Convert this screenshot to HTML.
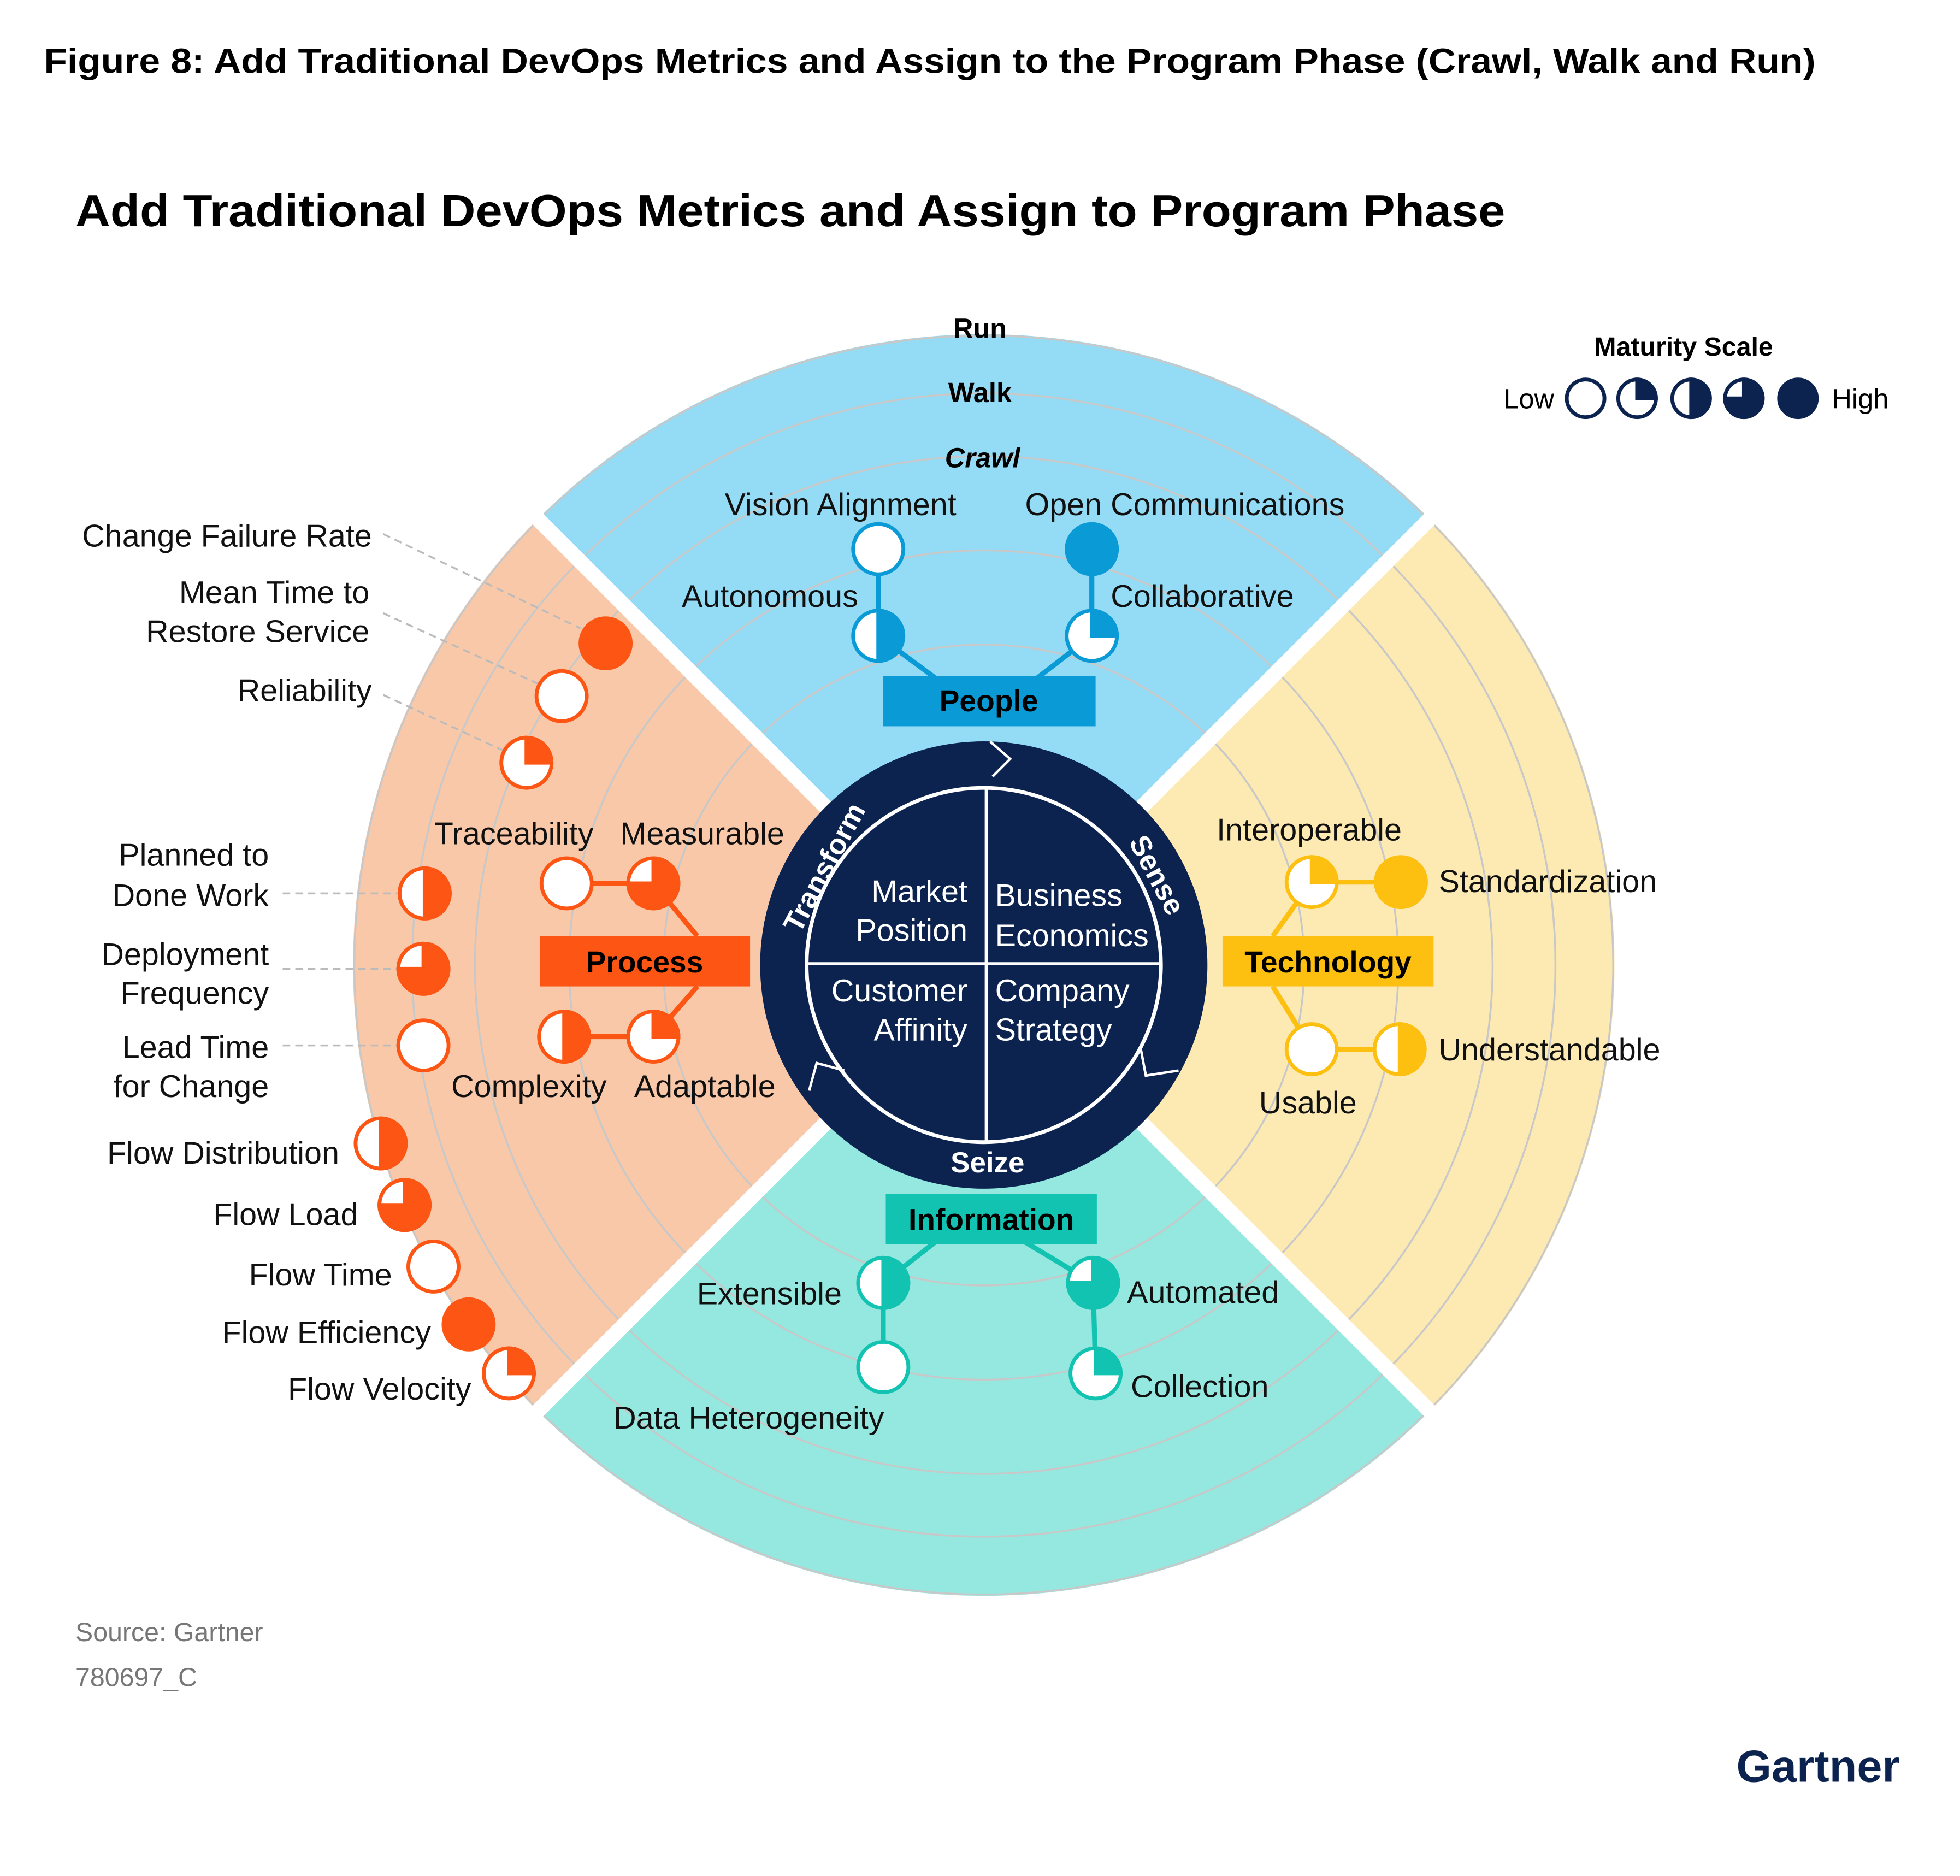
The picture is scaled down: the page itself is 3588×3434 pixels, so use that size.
<!DOCTYPE html>
<html><head><meta charset="utf-8"><style>
html,body{margin:0;padding:0;background:#fff}
svg{display:block}
text{font-family:"Liberation Sans",sans-serif}
</style></head><body>
<svg width="3588" height="3434" viewBox="0 0 1560 1493" xmlns="http://www.w3.org/2000/svg">
<defs>
<clipPath id="oc"><circle cx="783" cy="768" r="502"/></clipPath>
</defs>
<rect width="1560" height="1493" fill="#fff"/>
<text x="35" y="58" font-size="28" font-weight="bold" fill="#000" textLength="1410" lengthAdjust="spacingAndGlyphs">Figure 8: Add Traditional DevOps Metrics and Assign to the Program Phase (Crawl, Walk and Run)</text>
<text x="60" y="180" font-size="36" font-weight="bold" fill="#000" textLength="1138" lengthAdjust="spacingAndGlyphs">Add Traditional DevOps Metrics and Assign to Program Phase</text>

<g>
<path d="M783 768 L428 413 A502 502 0 0 1 1138 413 Z" fill="#94dcf5"/>
<path d="M783 768 L1138 413 A502 502 0 0 1 1138 1123 Z" fill="#fde9b2"/>
<path d="M783 768 L1138 1123 A502 502 0 0 1 428 1123 Z" fill="#94e8df"/>
<path d="M783 768 L428 1123 A502 502 0 0 1 428 413 Z" fill="#f9c8a8"/>
<g fill="none" stroke="#c8c8c8" stroke-width="1.5" clip-path="url(#oc)">
<circle cx="783" cy="768" r="455"/><circle cx="783" cy="768" r="405"/><circle cx="783" cy="768" r="330"/><circle cx="783" cy="768" r="255"/>
<circle cx="783" cy="768" r="501"/>
</g>
<g stroke="#fff" stroke-width="12">
<line x1="783" y1="768" x2="420" y2="405"/><line x1="783" y1="768" x2="1146" y2="405"/>
<line x1="783" y1="768" x2="1146" y2="1131"/><line x1="783" y1="768" x2="420" y2="1131"/>
</g>
</g>

<text x="780" y="269" font-size="22" font-weight="bold" text-anchor="middle">Run</text>
<text x="780" y="320" font-size="22" font-weight="bold" text-anchor="middle">Walk</text>
<text x="782" y="372" font-size="22" font-weight="bold" font-style="italic" text-anchor="middle">Crawl</text>

<!-- center -->
<circle cx="783" cy="768" r="178" fill="#0c2350"/>
<circle cx="783" cy="768" r="141" fill="#0c2350" stroke="#fff" stroke-width="3"/>
<line x1="785" y1="627" x2="785" y2="909" stroke="#fff" stroke-width="2.5"/>
<line x1="642" y1="767" x2="924" y2="767" stroke="#fff" stroke-width="2.5"/>
<g fill="#fff" font-size="25">
<text x="770" y="718" text-anchor="end">Market</text>
<text x="770" y="749" text-anchor="end">Position</text>
<text x="792" y="721">Business</text>
<text x="792" y="753">Economics</text>
<text x="770" y="797" text-anchor="end">Customer</text>
<text x="770" y="828" text-anchor="end">Affinity</text>
<text x="792" y="797">Company</text>
<text x="792" y="828">Strategy</text>
<text x="0" y="0" font-size="23" font-weight="bold" text-anchor="middle" transform="translate(663,694) rotate(-62)">Transform</text>
<text x="0" y="0" font-size="23" font-weight="bold" text-anchor="middle" transform="translate(914,700) rotate(62)">Sense</text>
<text x="786" y="933" font-size="23" font-weight="bold" text-anchor="middle">Seize</text>
</g>
<path d="M788 590 L804 604 L790 618" fill="#0c2350" stroke="#fff" stroke-width="2"/>
<path d="M908 835 L912 856 L938 852" fill="none" stroke="#fff" stroke-width="2"/>
<path d="M644 868 L650 846 L672 852" fill="none" stroke="#fff" stroke-width="2"/>

<!-- maturity scale -->
<text x="1340" y="283" font-size="21" font-weight="bold" text-anchor="middle">Maturity Scale</text>
<text x="1237" y="325" font-size="22" text-anchor="end">Low</text>
<text x="1458" y="325" font-size="22">High</text>
<g stroke="#0c2350" stroke-width="3" fill="#fff">
<circle cx="1262" cy="317" r="15"/>
<circle cx="1303" cy="317" r="15"/><path d="M1303 317 L1303 302 A15 15 0 0 1 1318 317 Z" fill="#0c2350"/>
<circle cx="1346" cy="317" r="15"/><path d="M1346 317 L1346 302 A15 15 0 0 1 1346 332 Z" fill="#0c2350"/>
<circle cx="1388" cy="317" r="15"/><path d="M1388 317 L1388 302 A15 15 0 1 1 1373 317 Z" fill="#0c2350"/>
<circle cx="1431" cy="317" r="15" fill="#0c2350"/>
</g>

<!-- People -->
<g stroke="#0a9ad6" stroke-width="4" fill="none">
<polyline points="699,437 699,506 745,540"/><polyline points="869,437 869,506 825,540"/>
</g>
<rect x="703" y="538" width="169" height="40" fill="#0a9ad6"/>
<text x="787" y="566" font-size="24" font-weight="bold" text-anchor="middle">People</text>
<g stroke="#0a9ad6" stroke-width="3" fill="#fff">
<circle cx="699" cy="437" r="20"/>
<circle cx="869" cy="437" r="20" fill="#0a9ad6"/>
<circle cx="699" cy="506" r="20"/><path d="M699 506 L699 486 A20 20 0 0 1 699 526 Z" fill="#0a9ad6"/>
<circle cx="869" cy="506" r="20"/><path d="M869 506 L869 486 A20 20 0 0 1 889 506 Z" fill="#0a9ad6"/>
</g>
<g font-size="25" fill="#111">
<text x="669" y="410" text-anchor="middle">Vision Alignment</text>
<text x="943" y="410" text-anchor="middle">Open Communications</text>
<text x="683" y="483" text-anchor="end">Autonomous</text>
<text x="884" y="483">Collaborative</text>
</g>

<!-- Technology -->
<g stroke="#fdc010" stroke-width="4" fill="none">
<polyline points="1115,702 1044,702 1013,745"/><polyline points="1114,835 1044,835 1013,785"/>
</g>
<rect x="973" y="745" width="168" height="40" fill="#fdc010"/>
<text x="1057" y="774" font-size="24" font-weight="bold" text-anchor="middle">Technology</text>
<g stroke="#fdc010" stroke-width="3" fill="#fff">
<circle cx="1044" cy="702" r="20"/><path d="M1044 702 L1044 682 A20 20 0 0 1 1064 702 Z" fill="#fdc010"/>
<circle cx="1115" cy="702" r="20" fill="#fdc010"/>
<circle cx="1044" cy="835" r="20"/>
<circle cx="1114" cy="835" r="20"/><path d="M1114 835 L1114 815 A20 20 0 0 1 1114 855 Z" fill="#fdc010"/>
</g>
<g font-size="25" fill="#111">
<text x="1042" y="669" text-anchor="middle">Interoperable</text>
<text x="1145" y="710">Standardization</text>
<text x="1145" y="844">Understandable</text>
<text x="1041" y="886" text-anchor="middle">Usable</text>
</g>

<!-- Information -->
<g stroke="#13c3b1" stroke-width="4" fill="none">
<polyline points="745,988 703,1021 703,1088"/><polyline points="815,988 870,1021 872,1093"/>
</g>
<rect x="705" y="950" width="168" height="40" fill="#13c3b1"/>
<text x="789" y="979" font-size="24" font-weight="bold" text-anchor="middle">Information</text>
<g stroke="#13c3b1" stroke-width="3" fill="#fff">
<circle cx="703" cy="1021" r="20"/><path d="M703 1021 L703 1001 A20 20 0 0 1 703 1041 Z" fill="#13c3b1"/>
<circle cx="870" cy="1021" r="20"/><path d="M870 1021 L870 1001 A20 20 0 1 1 850 1021 Z" fill="#13c3b1"/>
<circle cx="703" cy="1088" r="20"/>
<circle cx="872" cy="1093" r="20"/><path d="M872 1093 L872 1073 A20 20 0 0 1 892 1093 Z" fill="#13c3b1"/>
</g>
<g font-size="25" fill="#111">
<text x="670" y="1038" text-anchor="end">Extensible</text>
<text x="897" y="1037">Automated</text>
<text x="596" y="1137" text-anchor="middle">Data Heterogeneity</text>
<text x="900" y="1112">Collection</text>
</g>

<!-- Process -->
<g stroke="#fc5514" stroke-width="4" fill="none">
<polyline points="451,703 520,703 555,745"/><polyline points="449,825 520,825 555,785"/>
</g>
<rect x="430" y="745" width="167" height="40" fill="#fc5514"/>
<text x="513" y="774" font-size="24" font-weight="bold" text-anchor="middle">Process</text>
<g stroke="#bbb" stroke-width="1.5" stroke-dasharray="6,4" fill="none">
<line x1="305" y1="425" x2="462" y2="500"/>
<line x1="305" y1="488" x2="430" y2="545"/>
<line x1="305" y1="553" x2="402" y2="598"/>
<line x1="225" y1="711" x2="318" y2="711"/>
<line x1="225" y1="771" x2="317" y2="771"/>
<line x1="225" y1="832" x2="317" y2="832"/>
</g>
<g stroke="#fc5514" stroke-width="3" fill="#fff">
<circle cx="451" cy="703" r="20"/>
<circle cx="520" cy="703" r="20"/><path d="M520 703 L520 683 A20 20 0 1 1 500 703 Z" fill="#fc5514"/>
<circle cx="449" cy="825" r="20"/><path d="M449 825 L449 805 A20 20 0 0 1 449 845 Z" fill="#fc5514"/>
<circle cx="520" cy="825" r="20"/><path d="M520 825 L520 805 A20 20 0 0 1 540 825 Z" fill="#fc5514"/>

<circle cx="482" cy="512" r="20" fill="#fc5514"/>
<circle cx="447" cy="554" r="20"/>
<circle cx="419" cy="607" r="20"/><path d="M419 607 L419 587 A20 20 0 0 1 439 607 Z" fill="#fc5514"/>
<circle cx="338" cy="711" r="20"/><path d="M338 711 L338 691 A20 20 0 0 1 338 731 Z" fill="#fc5514"/>
<circle cx="337" cy="771" r="20"/><path d="M337 771 L337 751 A20 20 0 1 1 317 771 Z" fill="#fc5514"/>
<circle cx="337" cy="832" r="20"/>
<circle cx="303" cy="910" r="20"/><path d="M303 910 L303 890 A20 20 0 0 1 303 930 Z" fill="#fc5514"/>
<circle cx="322" cy="959" r="20"/><path d="M322 959 L322 939 A20 20 0 1 1 302 959 Z" fill="#fc5514"/>
<circle cx="345" cy="1008" r="20"/>
<circle cx="373" cy="1054" r="20" fill="#fc5514"/>
<circle cx="405" cy="1093" r="20"/><path d="M405 1093 L405 1073 A20 20 0 0 1 425 1093 Z" fill="#fc5514"/>
</g>
<g font-size="25" fill="#111">
<text x="409" y="672" text-anchor="middle">Traceability</text>
<text x="559" y="672" text-anchor="middle">Measurable</text>
<text x="421" y="873" text-anchor="middle">Complexity</text>
<text x="561" y="873" text-anchor="middle">Adaptable</text>
<text x="296" y="435" text-anchor="end">Change Failure Rate</text>
<text x="294" y="480" text-anchor="end">Mean Time to</text>
<text x="294" y="511" text-anchor="end">Restore Service</text>
<text x="296" y="558" text-anchor="end">Reliability</text>
<text x="214" y="689" text-anchor="end">Planned to</text>
<text x="214" y="721" text-anchor="end">Done Work</text>
<text x="214" y="768" text-anchor="end">Deployment</text>
<text x="214" y="799" text-anchor="end">Frequency</text>
<text x="214" y="842" text-anchor="end">Lead Time</text>
<text x="214" y="873" text-anchor="end">for Change</text>
<text x="270" y="926" text-anchor="end">Flow Distribution</text>
<text x="285" y="975" text-anchor="end">Flow Load</text>
<text x="312" y="1023" text-anchor="end">Flow Time</text>
<text x="343" y="1069" text-anchor="end">Flow Efficiency</text>
<text x="375" y="1114" text-anchor="end">Flow Velocity</text>
</g>

<text x="60" y="1306" font-size="21" fill="#777">Source: Gartner</text>
<text x="60" y="1342" font-size="21" fill="#777">780697_C</text>
<text x="1512" y="1418" font-size="36" font-weight="bold" fill="#0c2350" text-anchor="end">Gartner</text>
</svg>
</body></html>
